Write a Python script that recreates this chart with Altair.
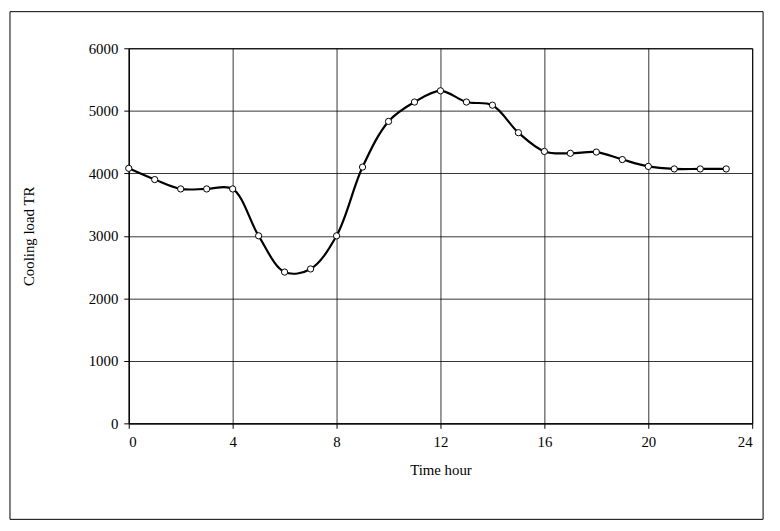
import altair as alt
import pandas as pd

hours = list(range(24))
load = [4080, 3900, 3750, 3750, 3750, 3000, 2420, 2470, 3000, 4100, 4830, 5140,
        5320, 5140, 5090, 4650, 4350, 4320, 4340, 4220, 4110, 4070, 4070, 4070]
df = pd.DataFrame({"h": hours, "v": load})

F = "Liberation Serif"
common = dict(grid=True, gridColor="black", gridWidth=0.8, domainColor="black", tickColor="black",
              labelColor="black", titleColor="black", labelFont=F, titleFont=F, labelFontSize=15,
              titleFontSize=15, titleFontWeight="normal", format="d")
x = alt.X("h:Q", scale=alt.Scale(domain=[0, 24], nice=False),
          axis=alt.Axis(values=[0, 4, 8, 12, 16, 20, 24], title="Time hour",
                        labelPadding=6, titlePadding=14, **common))
y = alt.Y("v:Q", scale=alt.Scale(domain=[0, 6000], nice=False),
          axis=alt.Axis(values=list(range(0, 6001, 1000)), title="Cooling load TR",
                        labelPadding=6, titlePadding=52, **common))

line = alt.Chart(df).mark_line(color="black", strokeWidth=2.2, interpolate="catmull-rom").encode(x=x, y=y)
pts = alt.Chart(df).mark_point(shape="circle", filled=True, fill="white", stroke="black",
                               strokeWidth=1, size=40, opacity=1).encode(x="h:Q", y="v:Q")
border = alt.Chart(df.head(1)).mark_rect(fill=None, stroke="black", strokeWidth=1, clip=False).encode(
    x=alt.value(-120), x2=alt.value(641), y=alt.value(-37), y2=alt.value(476))

chart = alt.layer(line, pts, border).properties(
    width=630, height=379, autosize=alt.AutoSizeParams(type="none"),
    padding={"left": 122, "top": 38, "right": 20, "bottom": 100},
    background="white"
).configure_view(stroke="black", strokeWidth=1)

chart.save("out.html", embed_options={"renderer": "svg", "actions": False})
